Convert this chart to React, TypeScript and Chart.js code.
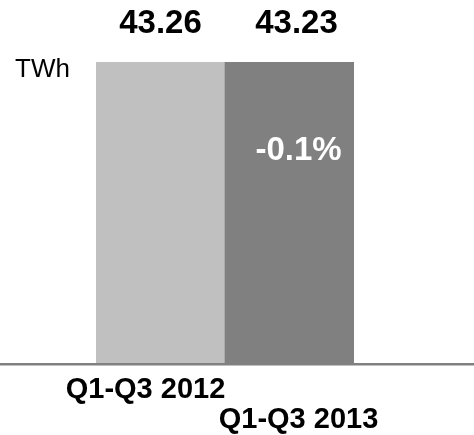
import React, { useEffect, useRef } from "react";
import { Chart, registerables } from "chart.js";

Chart.register(...registerables);

const categories: string[] = ["Q1-Q3 2012", "Q1-Q3 2013"];
const values: number[] = [43.26, 43.23];
const barColors: string[] = ["#c0c0c0", "#808080"];
const unitLabel = "TWh";

const FONT = "'Liberation Sans', Arial, Helvetica, sans-serif";

export default function App() {
  const ref = useRef<HTMLCanvasElement | null>(null);

  useEffect(() => {
    if (!ref.current) return;
    const change = ((values[1] - values[0]) / values[0]) * 100;
    const changeText = change.toFixed(1) + "%";

    const overlay = {
      id: "overlay",
      afterDatasetsDraw(chart: any) {
        const ctx = chart.ctx as CanvasRenderingContext2D;
        const y = chart.scales.y;
        const meta = chart.getDatasetMeta(0);
        const zero = y.getPixelForValue(0);
        ctx.save();
        // baseline axis line across the whole width
        ctx.fillStyle = "#808080";
        ctx.fillRect(0, zero, chart.width, 2.5);

        // unit label
        ctx.fillStyle = "#000000";
        ctx.font = `26px ${FONT}`;
        ctx.textAlign = "left";
        ctx.textBaseline = "alphabetic";
        ctx.fillText(unitLabel, 15, 77);

        const valueOffsets = [0, 7];
        const catOffsets = [-15, 9];
        const catBaselines = [398, 428];
        meta.data.forEach((bar: any, i: number) => {
          ctx.fillStyle = "#000000";
          ctx.font = `bold 33px ${FONT}`;
          ctx.textAlign = "center";
          ctx.fillText(values[i].toFixed(2), bar.x + valueOffsets[i], 33);

          ctx.font = `bold 29px ${FONT}`;
          ctx.fillText(categories[i], bar.x + catOffsets[i], catBaselines[i]);
        });

        // change label in second bar
        const b2 = meta.data[1];
        ctx.fillStyle = "#ffffff";
        ctx.font = `bold 33px ${FONT}`;
        ctx.textAlign = "center";
        ctx.fillText(changeText, b2.x + 9, 160);
        ctx.restore();
      },
    };

    const chart = new Chart(ref.current, {
      type: "bar",
      data: {
        labels: categories,
        datasets: [
          {
            data: values,
            backgroundColor: barColors,
            borderWidth: 0,
            barPercentage: 1,
            categoryPercentage: 1,
          },
        ],
      },
      options: {
        animation: false,
        responsive: false,
        devicePixelRatio: 1,
        layout: { padding: { left: 96, right: 120, top: 62, bottom: 72 } },
        plugins: { legend: { display: false }, tooltip: { enabled: false } },
        scales: {
          x: { display: false },
          y: { display: false, min: 0, max: Math.max(...values) },
        },
      },
      plugins: [overlay],
    });
    return () => chart.destroy();
  }, []);

  return (
    <div style={{ position: "absolute", left: 0, top: 0, width: 474, height: 435, background: "#ffffff" }}>
      <canvas ref={ref} width={474} height={435} style={{ display: "block" }} />
    </div>
  );
}
